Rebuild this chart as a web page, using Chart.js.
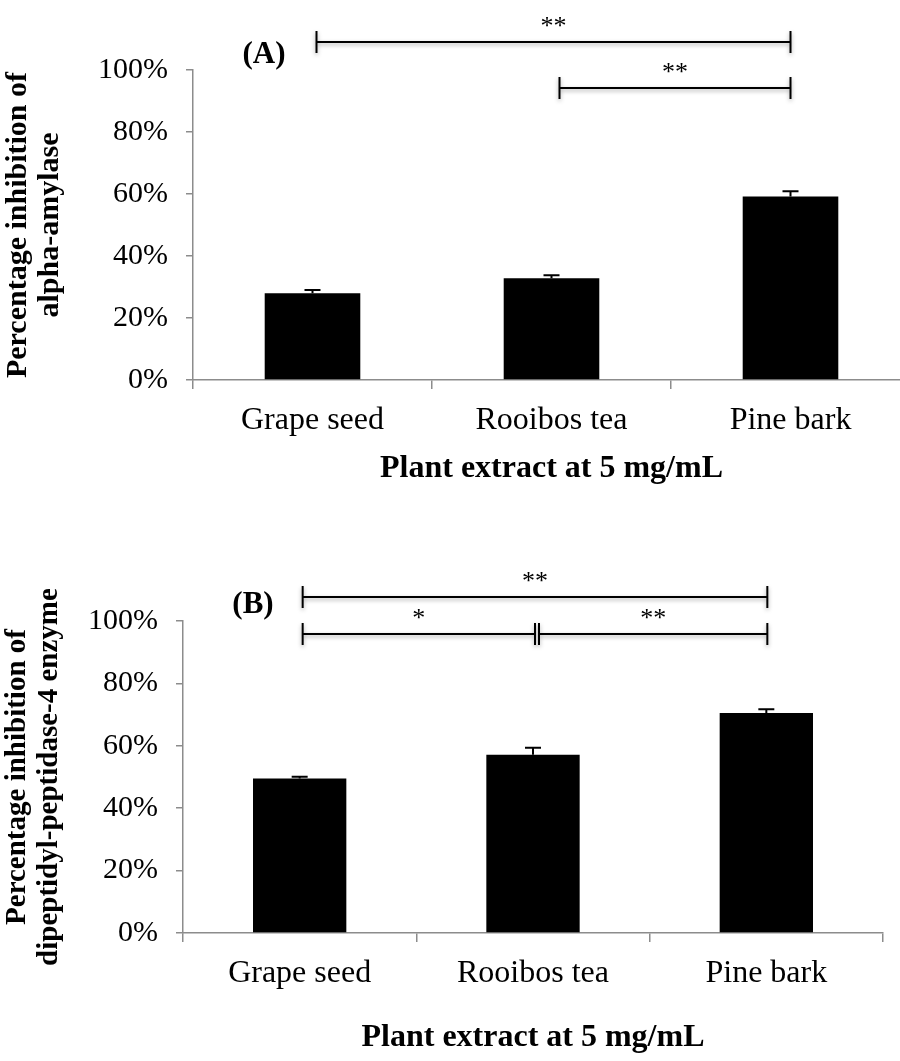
<!DOCTYPE html>
<html>
<head>
<meta charset="utf-8">
<script src="https://cdn.jsdelivr.net/npm/chart.js@4.4.0/dist/chart.umd.min.js"></script>
<style>
  html, body { margin: 0; padding: 0; background: #fff; overflow: hidden; }
  #wrap { position: relative; width: 900px; height: 1061px; overflow: hidden; }
  #boxA { position: absolute; left: 0; top: 0; width: 912px; height: 540px; }
  #boxB { position: absolute; left: 0; top: 540px; width: 900px; height: 521px; }
</style>
</head>
<body>
<div id="wrap">
  <div id="boxA"><canvas id="chartA" width="912" height="540"></canvas></div>
  <div id="boxB"><canvas id="chartB" width="900" height="521"></canvas></div>
</div>
<script>
// Plant extracts tested
const categories = ['Grape seed', 'Rooibos tea', 'Pine bark'];

// (A) alpha-amylase inhibition, % (mean and upper error)
const amylaseMean = [28.0, 32.8, 59.2];
const amylaseErr  = [1.0, 1.0, 1.7];

// (B) dipeptidyl-peptidase-4 inhibition, % (mean and upper error)
const dpp4Mean = [49.5, 57.1, 70.5];
const dpp4Err  = [0.6, 2.3, 1.2];

// Shared y ticks (percent)
const yTicks = [0, 20, 40, 60, 80, 100];

// Axis titles
const xTitle  = 'Plant extract at 5 mg/mL';
const yTitleA = ['Percentage inhibition of', 'alpha-amylase'];
const yTitleB = ['Percentage inhibition of', 'dipeptidyl-peptidase-4 enzyme'];

// Significance comparisons (category indices)
const sigA = [
  { from: 0, to: 2, label: '**' },
  { from: 1, to: 2, label: '**' }
];
const sigB = [
  { from: 0, to: 2, label: '**' },
  { from: 0, to: 1, label: '*' },
  { from: 1, to: 2, label: '**' }
];

const SERIF = "'Liberation Serif', 'Times New Roman', Times, serif";
const AXIS_GREY = '#8c8c8c';

// Draws upper error bars, significance brackets and the panel tag
const annotPlugin = {
  id: 'annot',
  afterDatasetsDraw(chart, args, opts) {
    const ctx = chart.ctx;
    const y = chart.scales.y;
    const meta = chart.getDatasetMeta(0);
    const data = chart.data.datasets[0].data;
    ctx.save();
    ctx.strokeStyle = '#000';
    ctx.lineWidth = 2;
    opts.errors.forEach((e, i) => {
      const el = meta.data[i];
      const yBar = y.getPixelForValue(data[i]);
      const yTop = y.getPixelForValue(data[i] + e);
      ctx.beginPath();
      ctx.moveTo(el.x, yBar);
      ctx.lineTo(el.x, yTop);
      ctx.moveTo(el.x - opts.capHalf, yTop);
      ctx.lineTo(el.x + opts.capHalf, yTop);
      ctx.stroke();
    });
    ctx.restore();
  },
  afterDraw(chart, args, opts) {
    const ctx = chart.ctx;
    const x = chart.scales.x, y = chart.scales.y;
    ctx.save();
    opts.brackets.forEach((b, i) => {
      const lay = opts.layout[i];
      const x0 = x.getPixelForValue(b.from) + lay.dx0;
      const x1 = x.getPixelForValue(b.to) + lay.dx1;
      const yy = y.getPixelForValue(lay.level);
      ctx.save();
      ctx.shadowColor = 'rgba(0,0,0,0.35)';
      ctx.shadowBlur = 4;
      ctx.shadowOffsetY = 2;
      ctx.strokeStyle = '#000';
      ctx.lineWidth = 2;
      ctx.beginPath();
      ctx.moveTo(x0, yy); ctx.lineTo(x1, yy);
      ctx.moveTo(x0, yy - 11); ctx.lineTo(x0, yy + 11);
      ctx.moveTo(x1, yy - 11); ctx.lineTo(x1, yy + 11);
      ctx.stroke();
      ctx.restore();
      ctx.fillStyle = '#000';
      ctx.font = '26px ' + SERIF;
      ctx.textAlign = 'center';
      ctx.textBaseline = 'alphabetic';
      ctx.fillText(b.label, (x0 + x1) / 2, yy - 8);
    });
    ctx.fillStyle = '#000';
    ctx.font = 'bold 31px ' + SERIF;
    ctx.textAlign = 'center';
    ctx.textBaseline = 'middle';
    ctx.fillText(opts.tag, opts.tagX, opts.tagY);
    ctx.restore();
  }
};

function makeChart(id, cfg) {
  return new Chart(document.getElementById(id), {
    type: 'bar',
    data: {
      labels: categories,
      datasets: [{
        data: cfg.values,
        backgroundColor: '#000',
        borderWidth: 0,
        barPercentage: 0.4,
        categoryPercentage: 1.0
      }]
    },
    plugins: [annotPlugin],
    options: {
      responsive: false,
      animation: false,
      devicePixelRatio: 1,
      layout: { padding: cfg.padding },
      plugins: {
        legend: { display: false },
        tooltip: { enabled: false },
        annot: {
          errors: cfg.errors,
          capHalf: 8,
          brackets: cfg.sig,
          layout: cfg.bracketLayout,
          tag: cfg.tag,
          tagX: cfg.tagX,
          tagY: cfg.tagY
        }
      },
      scales: {
        x: {
          offset: true,
          grid: {
            offset: true,
            drawOnChartArea: false,
            drawTicks: true,
            tickLength: 9,
            color: AXIS_GREY,
            lineWidth: 1.5
          },
          border: { color: AXIS_GREY, width: 1.5 },
          ticks: {
            font: { family: SERIF, size: 32 },
            color: '#000',
            padding: 12,
            maxRotation: 0,
            autoSkip: false
          },
          title: {
            display: true,
            text: xTitle,
            color: '#000',
            font: { family: SERIF, size: 32, weight: 'bold', lineHeight: 1.1 },
            padding: 0
          },
          afterFit(s) { s.height = cfg.xHeight; }
        },
        y: {
          min: 0,
          max: 100,
          afterBuildTicks(s) { s.ticks = yTicks.map(v => ({ value: v })); },
          ticks: {
            callback: v => v + '%',
            font: { family: SERIF, size: 30 },
            color: '#000',
            padding: 18
          },
          grid: {
            drawOnChartArea: false,
            tickLength: 7,
            color: AXIS_GREY,
            lineWidth: 1.5
          },
          border: { color: AXIS_GREY, width: 1.5 },
          title: {
            display: true,
            text: cfg.yTitle,
            color: '#000',
            font: { family: SERIF, size: cfg.yTitleSize, weight: 'bold', lineHeight: cfg.yTitleLH },
            padding: { top: 2, bottom: 0 }
          },
          afterFit(s) { s.width = cfg.yWidth; }
        }
      }
    }
  });
}

makeChart('chartA', {
  values: amylaseMean,
  errors: amylaseErr,
  yTitle: yTitleA,
  yTitleSize: 30,
  yTitleLH: 1.07,
  yWidth: 193,
  xHeight: 106,
  padding: { top: 70, left: 0, right: 2, bottom: 54 },
  sig: sigA,
  bracketLayout: [
    { level: 109.0, dx0: 4, dx1: 0 },
    { level: 94.2, dx0: 8, dx1: 0 }
  ],
  tag: '(A)', tagX: 264, tagY: 55
});

makeChart('chartB', {
  values: dpp4Mean,
  errors: dpp4Err,
  yTitle: yTitleB,
  yTitleSize: 29,
  yTitleLH: 1.1,
  yWidth: 183,
  xHeight: 122.5,
  padding: { top: 81, left: 0, right: 17, bottom: 5.5 },
  sig: sigB,
  bracketLayout: [
    { level: 107.7, dx0: 3, dx1: 1 },
    { level: 95.8, dx0: 3, dx1: 2 },
    { level: 95.8, dx0: 6, dx1: 1 }
  ],
  tag: '(B)', tagX: 253, tagY: 65
});
</script>
</body>
</html>
